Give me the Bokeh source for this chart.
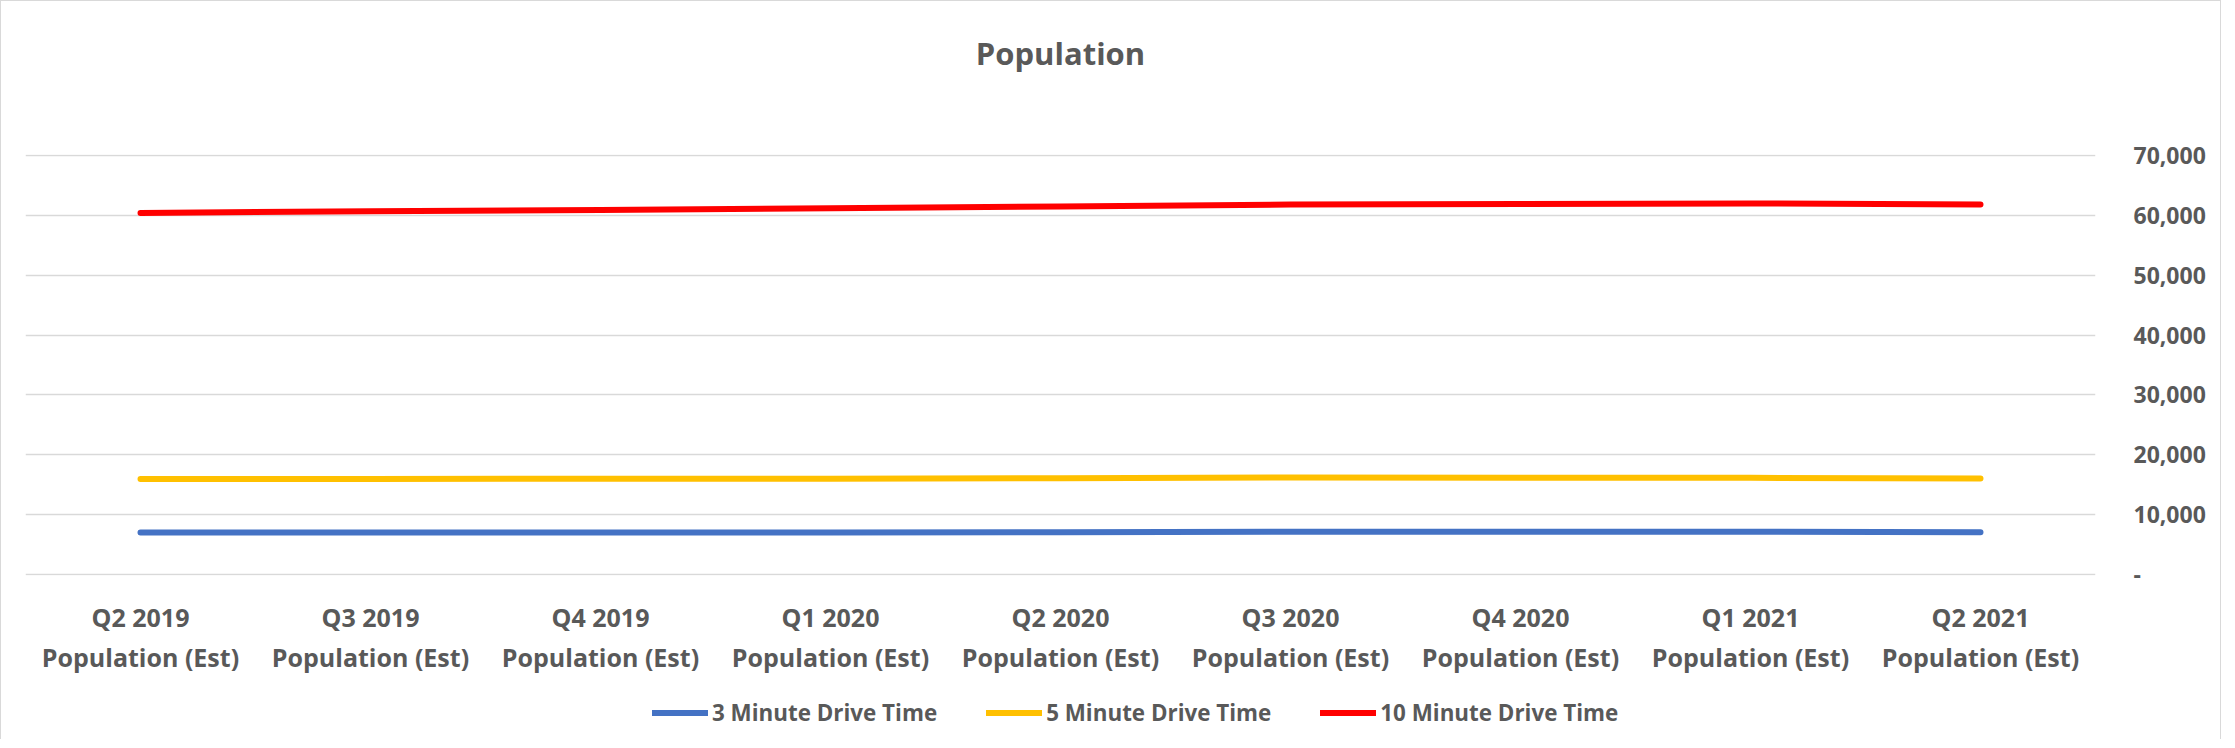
from bokeh.plotting import figure
from bokeh.models import (Range1d, LinearAxis, FixedTicker, NumeralTickFormatter,
                          Legend, LegendItem, Title)
from bokeh.layouts import column
from bokeh.embed import file_html
from bokeh.resources import INLINE

quarters = ["Q2 2019", "Q3 2019", "Q4 2019", "Q1 2020", "Q2 2020",
            "Q3 2020", "Q4 2020", "Q1 2021", "Q2 2021"]
sub_label = "Population (Est)"
chart_title = "Population"
series_names = ["3 Minute Drive Time", "5 Minute Drive Time", "10 Minute Drive Time"]
drive3 = [7000, 7000, 7000, 7000, 7050, 7150, 7150, 7150, 7050]
drive5 = [15950, 15950, 16000, 16000, 16100, 16200, 16150, 16150, 16050]
drive10 = [60400, 60700, 60900, 61200, 61500, 61800, 61900, 62000, 61800]
y_ticks = [0, 10000, 20000, 30000, 40000, 50000, 60000, 70000]
colors = ["#4472C4", "#FFC000", "#FF0000"]

TXT = "#595959"
FONT = "Open Sans"

xs = list(range(len(quarters)))
series = [drive3, drive5, drive10]

p = figure(frame_width=2070, frame_height=421, output_backend="svg", toolbar_location=None,
           x_range=Range1d(-0.5, len(quarters) - 0.5), y_range=Range1d(-167, 70167),
           y_axis_location="right", title=None,
           min_border_left=24, min_border_right=125, min_border_top=153,
           min_border_bottom=110)
p.outline_line_color = None
p.background_fill_color = "white"
p.border_fill_color = "white"

# title with a spacer between it and the frame
spacer = Title(text=" ", text_font_size="1px", standoff=73)
p.add_layout(spacer, "above")
main_title = Title(text=chart_title, align="center", text_font=FONT,
                   text_font_size="31px", text_font_style="bold",
                   text_color=TXT, standoff=10)
p.add_layout(main_title, "above")

# y axis (right)
ya = p.yaxis[0]
ya.ticker = FixedTicker(ticks=y_ticks)
ya.formatter = NumeralTickFormatter(format="0,0")
ya.major_label_overrides = {0: "-"}
ya.axis_line_color = None
ya.major_tick_line_color = None
ya.minor_tick_line_color = None
ya.major_label_standoff = 32
ya.major_label_text_font = FONT
ya.major_label_text_font_size = "23px"
ya.major_label_text_font_style = "bold"
ya.major_label_text_color = TXT

p.ygrid.ticker = FixedTicker(ticks=y_ticks)
p.ygrid.grid_line_color = "#D9D9D9"
p.ygrid.grid_line_width = 1.5
p.xgrid.visible = False

# x axis: two lines of labels
xa = p.xaxis[0]
xa.ticker = FixedTicker(ticks=xs)
xa.major_label_overrides = {i: q for i, q in enumerate(quarters)}
xa2 = LinearAxis(ticker=FixedTicker(ticks=xs),
                 major_label_overrides={i: sub_label for i in xs})
p.add_layout(xa2, "below")
for ax, so in ((xa, 24), (xa2, 3)):
    ax.axis_line_color = None
    ax.major_tick_line_color = None
    ax.minor_tick_line_color = None
    ax.major_tick_out = 0
    ax.major_tick_in = 0
    ax.major_label_standoff = so
    ax.major_label_text_font = FONT
    ax.major_label_text_font_size = "25px"
    ax.major_label_text_font_style = "bold"
    ax.major_label_text_color = TXT

for ys, c in zip(series, colors):
    p.line(xs, ys, line_color=c, line_width=6, line_cap="round", line_join="round")

# legend strip below the chart; its line renderers fall outside its own
# (tiny) y range, so only the legend swatches are visible there
leg = figure(width=2219, height=54, output_backend="svg", toolbar_location=None,
             x_axis_type=None, y_axis_type=None, min_border=0,
             x_range=Range1d(-0.5, len(quarters) - 0.5), y_range=Range1d(0, 1))
leg.outline_line_color = None
leg.grid.visible = False
leg.border_fill_color = "white"
leg.background_fill_color = "white"
proxies = [leg.line(xs, ys, line_color=c, line_width=6, line_cap="round")
           for ys, c in zip(series, colors)]
legend = Legend(items=[LegendItem(label=n, renderers=[r]) for n, r in zip(series_names, proxies)],
                orientation="horizontal", location="center_left", padding=0, margin=627,
                spacing=49, glyph_width=56, glyph_height=24, label_standoff=4,
                border_line_color=None, background_fill_alpha=0,
                label_text_font=FONT, label_text_font_size="22.4px",
                label_text_font_style="bold", label_text_color=TXT)
leg.add_layout(legend, "center")

layout = column(p, leg, styles={"border": "1px solid #d9d9d9", "border-bottom": "none"})
open("out.html", "w").write(file_html(layout, INLINE))
